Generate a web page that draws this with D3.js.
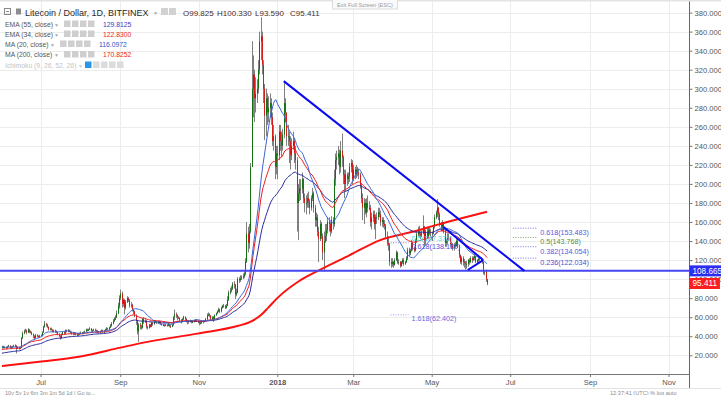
<!DOCTYPE html>
<html>
<head>
<meta charset="utf-8">
<script src="https://cdn.jsdelivr.net/npm/d3@7/dist/d3.min.js"></script>
<style>
html, body { margin: 0; padding: 0; background: #fff; overflow: hidden; }
svg { display: block; font-family: "Liberation Sans", Arial, sans-serif; }
</style>
</head>
<body>
<div id="chart"></div>
<script>
const width = 721, height = 395;

// daily candles, Litecoin / Dollar (Bitfinex), from 2017-06-01
const firstDay = "2017-06-01";
const firstOpen = 28;

const closes = [
  29, 28, 28.5, 27.5, 29, 30, 28, 28.5, 29, 30, 30, 27, 28.5, 27, 28, 38, 43, 45, 46, 44, 47, 45, 44, 42, 40, 38, 41, 40, 39, 40,
  41, 44, 50, 53, 52, 50, 47, 48, 47, 45, 46, 45, 44, 42, 40, 38, 42, 44, 43, 46, 45, 46, 45, 44, 43, 42, 43, 42, 41, 42, 43,
  44, 43, 44, 45, 47, 46, 47, 48, 46, 46, 47, 46, 45, 45, 44, 45, 46, 45, 45, 47, 48, 47, 49, 51, 53, 56, 58, 60, 64, 72, 80,
  85, 74, 78, 70, 76, 80, 78, 72, 73, 68, 66, 62, 56, 45, 52, 50, 49, 58, 55, 56, 50, 49, 52, 50, 54, 53, 56, 55, 54, 55,
  55, 53, 52, 52, 51, 52, 51, 53, 51, 50, 52, 60, 63, 62, 60, 59, 57, 56, 58, 60, 58, 56, 55, 56, 56, 55, 55, 56, 57, 56, 55,
  54, 54, 56, 55, 56, 58, 62, 63, 62, 58, 60, 58, 62, 64, 66, 68, 66, 70, 72, 72, 70, 72, 78, 86, 88, 90, 95, 94, 84, 86,
  100, 99, 101, 102, 103, 106, 118, 148, 138, 150, 218, 300, 315, 290, 295, 300, 320, 350, 355, 325, 300, 272, 290, 275, 280, 285, 270, 245, 250, 218, 232,
  230, 255, 245, 240, 252, 285, 275, 250, 250, 245, 230, 240, 245, 232, 225, 180, 190, 195, 195, 205, 185, 180, 180, 185, 182, 175, 185, 190, 175, 162, 165,
  150, 142, 158, 145, 128, 140, 145, 152, 160, 158, 150, 162, 158, 205, 225, 228, 232, 218, 235, 228, 210, 200, 210, 205, 208, 218, 222, 205,
  215, 210, 215, 212, 210, 198, 185, 175, 180, 170, 180, 175, 175, 160, 165, 168, 158, 165, 165, 170, 168, 160, 162, 158, 156, 145, 138, 136, 118, 116, 118,
  115, 120, 128, 118, 118, 114, 118, 120, 116, 118, 122, 130, 127, 130, 138, 132, 130, 140, 147, 150, 148, 146, 148, 155, 140, 150, 145, 152, 150, 148,
  148, 155, 165, 170, 175, 168, 158, 155, 158, 150, 138, 140, 145, 143, 137, 136, 133, 136, 135, 140, 135, 125, 118, 122, 118, 117, 116, 116, 120, 118, 122,
  120, 122, 124, 118, 120, 121, 122, 120, 118, 107, 108, 99.825, 95.411
];

const highs = [
  30, 30, 29.5, 29, 30, 31, 30.5, 29.5, 30, 31, 31.5, 30.5, 29.5, 29, 29, 39, 45, 47, 48, 47, 48.5, 47.5, 46, 45, 43, 41, 42.5, 42, 41, 41.5,
  42, 45, 51, 56, 54, 53, 50, 49, 49, 47, 47, 47, 46, 45, 43, 41, 43, 45.5, 45, 47, 47, 47.5, 47, 46, 45, 44, 44.5, 44, 43, 43, 44,
  45, 44.5, 45, 46, 48, 48, 48, 49.5, 48.5, 47, 48, 48, 47, 46.5, 45.5, 46, 47, 47, 46.5, 48, 49.5, 49, 50, 53, 55, 58, 60, 62, 67, 75, 83,
  89, 87, 80, 79, 78, 82, 81, 79, 76, 74, 69, 67, 63, 57, 54, 54, 52, 59, 60, 58, 57, 51, 53, 53, 55, 55, 57, 57, 56, 56,
  56, 56, 54, 53, 52.5, 53, 52.5, 54, 53.5, 52, 53, 61, 68, 65, 63, 61, 60, 58, 59, 61.5, 61, 59, 57, 57, 57.5, 57, 56.5, 57, 58, 58, 57,
  56, 55, 57, 57, 57, 59, 64, 65, 64, 62, 61, 61, 63, 65, 67, 70, 69, 71, 73, 74, 73, 74, 82, 88, 91, 93, 97, 98, 95, 90,
  102, 102, 104, 104, 106, 108, 122, 160, 155, 158, 222, 350, 335, 320, 312, 310, 330, 360, 375, 360, 330, 305, 300, 295, 292, 295, 290, 275, 262, 252, 240,
  240, 262, 262, 255, 258, 308, 290, 275, 262, 255, 250, 248, 255, 248, 240, 228, 200, 205, 205, 212, 206, 190, 188, 190, 192, 184, 188, 196, 192, 178, 170,
  168, 155, 162, 160, 148, 150, 158, 158, 165, 165, 160, 166, 165, 215, 232, 235, 240, 236, 245, 253, 230, 215, 215, 212, 212, 222, 226, 225,
  220, 218, 220, 218, 216, 212, 200, 190, 185, 184, 185, 188, 182, 178, 170, 172, 172, 168, 170, 175, 175, 172, 165, 165, 162, 158, 150, 145, 138, 122, 122,
  119, 122, 130, 129, 121, 119, 119, 122, 122, 119, 124, 133, 133, 132, 141, 139, 134, 142, 150, 155, 156, 150, 151, 167, 156, 152, 154, 155, 155, 153,
  150, 157, 168, 172, 184, 176, 170, 160, 162, 160, 152, 142, 148, 148, 145, 139, 138, 138, 139, 142, 142, 136, 126, 124, 124, 121, 119, 119, 121, 122, 124,
  124, 124, 126, 124, 121, 123, 124, 123, 121, 118, 109, 110, 100.33
];

const lows = [
  27, 27, 27.5, 26.5, 27, 28.5, 27, 27.5, 28, 28.5, 29, 22, 26.5, 26, 26.5, 27.5, 37, 42, 44, 42, 43.5, 43, 43, 41, 38, 36, 37.5, 39, 38, 38.5,
  39, 40, 43.5, 49, 50, 48.5, 46, 46, 46, 44, 44, 43.5, 43, 41, 39, 36.5, 37.5, 41.5, 42, 42.5, 44, 44, 44, 43, 41.5, 41, 41.5, 41, 40, 40.5, 41.5,
  42, 42, 42.5, 43.5, 44.5, 45, 45.5, 46.5, 45, 44.5, 45.5, 45, 44, 43.5, 42.5, 43.5, 44.5, 43.5, 43.5, 44.5, 46.5, 46, 46.5, 48.5, 50, 52.5, 55, 57, 59, 63, 69,
  78, 70, 71, 63, 68, 75, 76, 70, 70, 66, 63, 60, 52, 42, 34, 47, 47, 48, 53, 54, 48, 47, 48, 49, 49.5, 51, 52, 54, 53, 53.5,
  53.5, 52, 51, 50.5, 50, 50.5, 50, 50.5, 49.5, 48.5, 49.5, 51, 57, 59, 57, 58, 55, 53.5, 55, 57, 56, 54.5, 52.5, 53, 54.5, 53.5, 54, 54.5, 55, 55, 53.5,
  51.5, 52.5, 53, 53.5, 54.5, 55.5, 57, 61, 60, 56, 57, 55, 57.5, 61.5, 63.5, 65, 64.5, 65, 69, 70, 68.5, 69, 71.5, 77, 84, 86, 88.5, 90, 79, 82,
  85, 96, 97, 99, 100, 101, 104, 117, 128, 132, 148, 218, 270, 265, 275, 285, 295, 315, 330, 315, 285, 246, 250, 262, 265, 270, 262, 240, 235, 205, 210,
  205, 225, 235, 228, 235, 248, 265, 240, 240, 222, 215, 225, 236, 222, 215, 150, 141, 182, 183, 190, 180, 170, 168, 175, 175, 168, 172, 182, 170, 155, 155,
  145, 118, 140, 142, 120, 108, 138, 140, 148, 150, 145, 148, 152, 155, 198, 215, 220, 210, 212, 218, 200, 185, 192, 198, 200, 202, 212, 200,
  203, 205, 206, 208, 205, 195, 180, 162, 158, 168, 165, 170, 172, 155, 152, 160, 152, 142, 158, 162, 165, 156, 155, 154, 152, 143, 135, 130, 114, 112, 113,
  112, 114, 119, 116, 115, 112, 113, 116, 114, 115, 117, 120, 124, 125, 129, 130, 128, 129, 138, 145, 144, 142, 144, 147, 135, 136, 143, 143, 146, 144,
  140, 147, 153, 163, 165, 162, 155, 150, 150, 148, 134, 134, 137, 140, 134, 132, 130, 130, 133, 134, 133, 122, 116, 115, 114, 112, 110, 111, 113, 115, 117,
  117, 119, 120, 117, 116, 118, 119, 118, 116, 105, 104, 97, 93.59
];

// MA(200)
const ma200Dates = ["2017-06-01", "2017-06-30", "2017-07-31", "2017-09-01", "2017-09-16", "2017-11-01", "2017-12-01", "2017-12-11",
  "2017-12-20", "2017-12-25", "2018-01-01", "2018-01-18", "2018-02-02", "2018-02-26", "2018-03-22", "2018-04-17", "2018-05-05", "2018-06-13"];
const ma200Values = [8.7, 13.2, 18.5, 28, 32.5, 43, 50.7, 55, 63, 70, 80, 98, 109, 125, 141, 150, 157, 170.8];

// starting values of the EMAs at the left edge
const ema34Start = 26;
const ema55Start = 22;

const yTicks = [20, 40, 60, 80, 100, 120, 140, 160, 180, 200, 220, 240, 260, 280, 300, 320, 340, 360, 380];
const monthTicks = ["2017-07-01", "2017-09-01", "2017-11-01", "2018-01-01", "2018-03-01", "2018-05-01", "2018-07-01", "2018-09-01", "2018-11-01"];
const monthLabels = ["Jul", "Sep", "Nov", "2018", "Mar", "May", "Jul", "Sep", "Nov"];

const supportPrice = 108.665;
const trendDates = ["2018-01-06", "2018-07-12"];
const trendPrices = [308, 108.665];
const wedgeTopDates = ["2018-05-10", "2018-06-10"];
const wedgeTopPrices = [155, 120];
const wedgeLowDates = ["2018-05-29", "2018-06-10"];
const wedgeLowPrices = [109.6, 120];

const fibLabels = ["0.618(153.483)", "0.5(143.768)", "0.382(134.054)", "0.236(122.034)"];
const fibPrices = [153.483, 143.768, 134.054, 122.034];
const fibColors = ["#5858e0", "#5a8c46", "#5858e0", "#5050d8"];
const fibDates = ["2018-07-03", "2018-07-22"];

const extLabels = ["0.5(147.376)", "0.618(138.180)", "1.618(62.402)"];
const extPrices = [147.376, 138.18, 62.402];
const extColors = ["#3fd6e0", "#5050d8", "#6a6ae0"];
const extDates = ["2018-03-30", "2018-04-13"];

const legendNames = ["EMA (55, close)", "EMA (34, close)", "MA (20, close)", "MA (200, close)"];
const legendValues = ["129.8125", "122.8300", "116.0972", "170.8252"];
const legendColors = ["#3c3cc0", "#ee2424", "#2f55c4", "#ee2424"];

const parse = d3.utcParse("%Y-%m-%d");
const start = parse(firstDay);

const candles = closes.map((c, i) => ({
  date: d3.utcDay.offset(start, i),
  open: i === 0 ? firstOpen : closes[i - 1],
  high: highs[i],
  low: lows[i],
  close: c
}));

function ema(period, seed) {
  const k = 2 / (period + 1);
  let prev = seed;
  return candles.map(d => {
    prev = k * d.close + (1 - k) * prev;
    return { date: d.date, v: prev };
  });
}

function sma(period) {
  return candles.map((d, i) => {
    const from = Math.max(0, i - period + 1);
    return { date: d.date, v: d3.mean(closes.slice(from, i + 1)) };
  });
}

const plotRight = 689.5, plotBottom = 374;

const x = d3.scaleUtc()
  .domain([parse("2017-07-01"), parse("2018-11-01")])
  .range([40.5, 668.5]);
const y = d3.scaleLinear()
  .domain([0, 380])
  .range([374.3, 12.6]);

const svg = d3.select("#chart").append("svg")
  .attr("width", width)
  .attr("height", height)
  .attr("viewBox", [0, 0, width, height]);

svg.append("rect").attr("width", width).attr("height", height).attr("fill", "#fff");

svg.append("defs").append("clipPath").attr("id", "plot")
  .append("rect").attr("x", 0).attr("y", 0).attr("width", plotRight).attr("height", plotBottom);

// grid
const grid = svg.append("g");
grid.selectAll(".h").data(yTicks).join("line")
  .attr("x1", 0).attr("x2", plotRight)
  .attr("y1", d => Math.round(y(d)) + 0.5).attr("y2", d => Math.round(y(d)) + 0.5)
  .attr("stroke", "#ececec");
grid.selectAll(".v").data(monthTicks).join("line")
  .attr("x1", d => Math.round(x(parse(d))) + 0.5).attr("x2", d => Math.round(x(parse(d))) + 0.5)
  .attr("y1", 0).attr("y2", plotBottom)
  .attr("stroke", "#ececec");

const plot = svg.append("g").attr("clip-path", "url(#plot)");

// candles
const cg = plot.append("g");
cg.selectAll("line").data(candles).join("line")
  .attr("x1", d => Math.round(x(d.date)) + 0.5)
  .attr("x2", d => Math.round(x(d.date)) + 0.5)
  .attr("y1", d => y(Math.max(d.high, d.open, d.close)))
  .attr("y2", d => y(Math.min(d.low, d.open, d.close)))
  .attr("stroke", "#808080")
  .attr("stroke-width", 1);
cg.selectAll("rect").data(candles).join("rect")
  .attr("x", d => Math.round(x(d.date)))
  .attr("width", 1)
  .attr("y", d => y(Math.max(d.open, d.close)))
  .attr("height", d => Math.max(1, Math.abs(y(d.open) - y(d.close))))
  .attr("fill", d => d.close >= d.open ? "#137013" : "#d41c1c");

// moving averages
const line = d3.line().x(d => x(d.date)).y(d => y(d.v));
const ma200 = ma200Dates.map((d, i) => ({ date: parse(d), v: ma200Values[i] }));

plot.append("path").datum(ma200)
  .attr("d", line.curve(d3.curveMonotoneX))
  .attr("fill", "none").attr("stroke", "#ff1010").attr("stroke-width", 2);
line.curve(d3.curveLinear);
plot.append("path").datum(ema(55, ema55Start))
  .attr("d", line).attr("fill", "none").attr("stroke", "#2a2aa0").attr("stroke-width", 1);
plot.append("path").datum(ema(34, ema34Start))
  .attr("d", line).attr("fill", "none").attr("stroke", "#f01c1c").attr("stroke-width", 1);
plot.append("path").datum(sma(20))
  .attr("d", line).attr("fill", "none").attr("stroke", "#3a66d6").attr("stroke-width", 1);

// trend lines
plot.append("line")
  .attr("x1", 0).attr("x2", plotRight)
  .attr("y1", y(supportPrice)).attr("y2", y(supportPrice))
  .attr("stroke", "#4646f2").attr("stroke-width", 2);

function seg(dates, prices, color, w) {
  plot.append("line")
    .attr("x1", x(parse(dates[0]))).attr("y1", y(prices[0]))
    .attr("x2", x(parse(dates[1]))).attr("y2", y(prices[1]))
    .attr("stroke", color).attr("stroke-width", w);
}
seg(trendDates, trendPrices, "#0a0af0", 2);
seg(wedgeTopDates, wedgeTopPrices, "#0a0af0", 2);
seg(wedgeLowDates, wedgeLowPrices, "#0a0af0", 2);

// fibonacci levels
const fib = plot.append("g").attr("font-size", 7.2);
fibPrices.forEach((p, i) => {
  fib.append("line")
    .attr("x1", x(parse(fibDates[0]))).attr("x2", x(parse(fibDates[1])))
    .attr("y1", y(p)).attr("y2", y(p))
    .attr("stroke", fibColors[i]).attr("stroke-dasharray", "1,1.5").attr("opacity", 0.8);
  fib.append("text")
    .attr("x", x(parse(fibDates[1])) + 3).attr("y", y(p) + 7)
    .attr("fill", fibColors[i]).text(fibLabels[i]);
});
extPrices.forEach((p, i) => {
  fib.append("line")
    .attr("x1", x(parse(extDates[0]))).attr("x2", x(parse(extDates[1])))
    .attr("y1", y(p)).attr("y2", y(p))
    .attr("stroke", extColors[i]).attr("stroke-dasharray", "1,1.5").attr("opacity", 0.7);
  fib.append("text")
    .attr("x", x(parse(extDates[1])) + 3).attr("y", y(p) + 6.5)
    .attr("fill", extColors[i]).text(extLabels[i]);
});

// price axis
const yAxis = svg.append("g")
  .attr("transform", `translate(${plotRight},0)`)
  .call(d3.axisRight(y).tickValues(yTicks).tickFormat(d3.format(".3f")).tickSize(3).tickPadding(2));
yAxis.select(".domain").remove();
yAxis.selectAll("line").attr("stroke", "#777");
yAxis.selectAll("text").attr("fill", "#555").attr("font-size", 7.6).attr("font-family", "Liberation Sans, Arial, sans-serif");
svg.append("line").attr("x1", plotRight).attr("x2", plotRight).attr("y1", 0).attr("y2", 388)
  .attr("stroke", "#666");

// time axis
const xAxis = svg.append("g")
  .attr("transform", `translate(0,${plotBottom})`)
  .call(d3.axisBottom(x).tickValues(monthTicks.map(parse)).tickFormat((d, i) => monthLabels[i]).tickSize(3).tickPadding(3));
xAxis.select(".domain").remove();
xAxis.selectAll("line").attr("stroke", "#777");
xAxis.selectAll("text").attr("fill", "#555").attr("font-size", 7.6).attr("font-family", "Liberation Sans, Arial, sans-serif")
  .attr("font-weight", (d, i) => monthLabels[i] === "2018" ? "bold" : "normal");
svg.append("line").attr("x1", 0).attr("x2", plotRight).attr("y1", plotBottom + 0.5).attr("y2", plotBottom + 0.5)
  .attr("stroke", "#777");
svg.append("line").attr("x1", 0).attr("x2", width).attr("y1", 388.5).attr("y2", 388.5).attr("stroke", "#e2e2e2");

// price tags
function tag(price, color) {
  const txt = d3.format(".3f")(price);
  const g = svg.append("g").attr("transform", `translate(${plotRight},${y(price)})`);
  const t = g.append("text").attr("x", 3).attr("y", 3).attr("font-size", 8.2).attr("fill", "#fff").text(txt);
  const w = t.node().getComputedTextLength();
  g.insert("rect", "text").attr("x", 0).attr("y", -5.5).attr("width", w + 6).attr("height", 11).attr("fill", color);
}
tag(supportPrice, "#2c2cf5");
tag(closes[closes.length - 1], "#fa1e1e");

// header
const head = svg.append("g");
head.append("rect").attr("x", 0).attr("y", 0).attr("width", width).attr("height", 1.5).attr("fill", "#e3e3e3");
head.append("rect").attr("x", 4.5).attr("y", 8.5).attr("width", 6).attr("height", 6).attr("fill", "none").attr("stroke", "#888");
head.append("line").attr("x1", 6).attr("x2", 9).attr("y1", 11.5).attr("y2", 11.5).attr("stroke", "#888");
head.append("rect").attr("x", 16).attr("y", 8.5).attr("width", 5).attr("height", 6).attr("fill", "#8c8c8c");
head.append("text").attr("x", 25).attr("y", 15.5).attr("font-size", 9).attr("fill", "#2a2a2a")
  .text("Litecoin / Dollar, 1D, BITFINEX");
head.append("text").attr("x", 153).attr("y", 14.5).attr("font-size", 5).attr("fill", "#aaa").text("▼");
[161, 169].forEach(px => head.append("rect").attr("x", px).attr("y", 8).attr("width", 7).attr("height", 7).attr("fill", "#d2d2d2"));
const ohlc = [["O", "99.825", 183], ["H", "100.330", 217], ["L", "93.590", 255], ["C", "95.411", 290]];
ohlc.forEach(o => head.append("text").attr("x", o[2]).attr("y", 15.5).attr("font-size", 8).attr("fill", "#4a2c2c").text(o[0] + o[1]));

head.append("rect").attr("x", 332.5).attr("y", -1).attr("width", 65).attr("height", 10).attr("fill", "#fafafa").attr("stroke", "#dcdcdc");
head.append("text").attr("x", 365).attr("y", 6.5).attr("text-anchor", "middle").attr("font-size", 5.6).attr("fill", "#9a9a9a")
  .text("Exit Full Screen (ESC)");

const legend = svg.append("g").attr("font-size", 6.8);
const rowY = [26.5, 36.5, 46.5, 57, 67.5];
legendNames.forEach((n, i) => {
  const g = legend.append("g").attr("transform", `translate(0,${rowY[i]})`);
  g.append("text").attr("x", 5).attr("y", 0).attr("fill", "#555").text(n);
  const w = n.length > 14 ? 4 : 0;
  g.append("text").attr("x", 50 + w).attr("y", 0).attr("font-size", 5).attr("fill", "#aaa").text("▼");
  [0, 1, 2, 3].forEach(k => g.append("rect").attr("x", 60 + w + k * 8).attr("y", -6).attr("width", 6.5).attr("height", 6.5).attr("fill", "#cfcfcf"));
  g.append("text").attr("x", 99 + w).attr("y", 0).attr("fill", legendColors[i]).text(legendValues[i]);
});
const ich = legend.append("g").attr("transform", `translate(0,${rowY[4]})`);
ich.append("text").attr("x", 5).attr("y", 0).attr("fill", "#c4c4c4").text("Ichimoku (9, 26, 52, 26)");
ich.append("text").attr("x", 78).attr("y", 0).attr("font-size", 5).attr("fill", "#ccc").text("▼");
[0, 1, 2, 3, 4].forEach(k => ich.append("rect").attr("x", 85 + k * 8).attr("y", -6).attr("width", 6.5).attr("height", 6.5)
  .attr("fill", k === 0 ? "#2a98e8" : "#dcdcdc"));

// bottom toolbar
const bar = svg.append("g").attr("font-size", 5.6).attr("fill", "#8a8a8a");
bar.append("text").attr("x", 5).attr("y", 394.5).text("10y  5y  1y  6m  3m  1m  5d  1d   |   Go to...");
bar.append("text").attr("x", 610).attr("y", 394.5).text("12:37:41 (UTC)    %    log    auto");
</script>
</body>
</html>
